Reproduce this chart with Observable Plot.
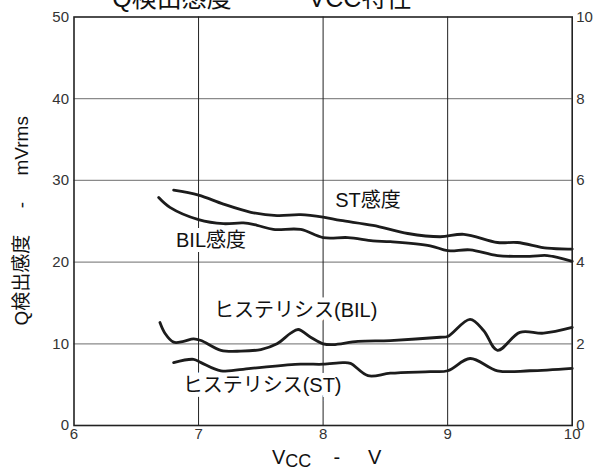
<!DOCTYPE html>
<html>
<head>
<meta charset="utf-8">
<script src="https://cdn.jsdelivr.net/npm/d3@7"></script>
<script src="https://cdn.jsdelivr.net/npm/@observablehq/plot@0.6"></script>
<style>
  html, body { margin: 0; padding: 0; background: white; }
  #chart svg { overflow: visible; }
</style>
</head>
<body>
<div id="chart"></div>
<script>
// ---- data ----
const stV   = [6.80, 7.00, 7.20, 7.42, 7.63, 7.82, 8.00, 8.14, 8.40, 8.68, 8.94, 9.13, 9.40, 9.56, 9.80, 10.0];
const stVal = [28.8, 28.2, 27.1, 26.1, 25.7, 25.8, 25.5, 25.1, 24.5, 23.5, 23.1, 23.4, 22.4, 22.4, 21.7, 21.6];

const bilV   = [6.68, 6.77, 7.00, 7.20, 7.36, 7.47, 7.60, 7.82, 8.00, 8.20, 8.40, 8.54, 8.86, 9.00, 9.18, 9.40, 9.66, 9.80, 10.0];
const bilVal = [27.9, 26.7, 25.2, 24.7, 24.8, 24.5, 24.0, 24.0, 23.0, 23.0, 22.6, 22.5, 22.0, 21.4, 21.5, 20.8, 20.7, 20.8, 20.1];

const hBilV   = [6.69, 6.73, 6.80, 6.88, 6.96, 7.02, 7.18, 7.34, 7.50, 7.63, 7.74, 7.80, 7.90, 8.00, 8.08, 8.28, 8.54, 8.94, 9.00, 9.18, 9.29, 9.40, 9.58, 9.77, 10.0];
const hBilVal = [12.6, 11.3, 10.2, 10.3, 10.6, 10.4, 9.2, 9.1, 9.3, 10.0, 11.3, 11.75, 10.8, 10.0, 9.9, 10.3, 10.4, 10.8, 10.9, 13.0, 11.6, 9.2, 11.4, 11.3, 12.0];

const hStV   = [6.80, 6.96, 7.02, 7.18, 7.42, 7.82, 8.00, 8.16, 8.22, 8.36, 8.54, 8.86, 9.00, 9.18, 9.40, 9.66, 10.0];
const hStVal = [7.7, 8.1, 7.7, 6.7, 7.0, 7.5, 7.5, 7.7, 7.6, 6.1, 6.4, 6.6, 6.7, 8.2, 6.7, 6.7, 7.0];

const xTicks = [6, 7, 8, 9, 10];
const xTickLabels = ["6", "7", "8", "9", "10"];
const yTicks = [0, 10, 20, 30, 40, 50];
const yTickLabels = ["0", "10", "20", "30", "40", "50"];
const rightTickLabels = ["0", "2", "4", "6", "8", "10"];

const labelText = ["ST感度", "BIL感度", "ヒステリシス(BIL)", "ヒステリシス(ST)"];
const labelV    = [8.36, 7.10, 7.78, 7.51];
const labelVal  = [27.5, 22.6, 14.1, 4.9];

// ---- build tables ----
const toRows = (xs, ys) => xs.map((x, i) => ({x, y: ys[i]}));
const series = [toRows(stV, stVal), toRows(bilV, bilVal), toRows(hBilV, hBilVal), toRows(hStV, hStVal)];
const labels = labelText.map((t, i) => ({t, x: labelV[i], y: labelVal[i]}));

const FONT = "'Liberation Sans', Arial, 'Noto Sans CJK JP', sans-serif";
const W = 597, H = 473;
const mL = 73.5, mR = 25.3, mT = 16.5, mB = 48;

const lineMarks = series.map(d => Plot.line(d, {
  x: "x", y: "y", curve: "catmull-rom", stroke: "#1c1c1c", strokeWidth: 2.8
}));

const chart = Plot.plot({
  width: W, height: H,
  marginLeft: mL, marginRight: mR, marginTop: mT, marginBottom: mB,
  style: {fontFamily: FONT, background: "white", overflow: "visible"},
  x: {domain: [6, 10]},
  y: {domain: [0, 50]},
  marks: [
    Plot.ruleY(yTicks.slice(1, -1), {stroke: "#8a8a8a", strokeWidth: 1.2}),
    Plot.ruleX(xTicks.slice(1, -1), {stroke: "#222", strokeWidth: 1}),
    Plot.text(labels, {x: "x", y: "y", text: "t", fontSize: 20, fill: "white", stroke: "white", strokeWidth: 10, strokeLinejoin: "miter"}),
    Plot.text(labels, {x: "x", y: "y", text: "t", fontSize: 20, fill: "#111"}),
    ...lineMarks,
    Plot.frame({stroke: "#222", strokeWidth: 1.6}),
    Plot.axisX({ticks: xTicks, tickSize: 0, tickPadding: 3, fontSize: 15, label: null, color: "#333",
      tickFormat: d => xTickLabels[xTicks.indexOf(d)]}),
    Plot.axisY({ticks: yTicks, tickSize: 0, tickPadding: 5, fontSize: 15, label: null, color: "#333",
      tickFormat: d => yTickLabels[yTicks.indexOf(d)]}),
    Plot.axisY({anchor: "right", ticks: yTicks, tickSize: 0, tickPadding: 4, fontSize: 15, label: null, color: "#333",
      tickFormat: d => rightTickLabels[yTicks.indexOf(d)]})
  ]
});

document.getElementById("chart").append(chart);

// ---- titles / axis labels as real text ----
const svg = d3.select(chart);
const cx = mL + (W - mL - mR) / 2;
const cy = mT + (H - mT - mB) / 2;

// title (partly cut off at the top, as in the reference)
svg.append("text")
  .attr("x", 172).attr("y", 7)
  .attr("font-family", FONT).attr("font-size", 25).attr("fill", "#111")
  .text("Q検出感度");
svg.append("text")
  .attr("x", 360).attr("y", 7)
  .attr("font-family", FONT).attr("font-size", 25).attr("fill", "#111")
  .text("VCC特性");

// x label
const xl = svg.append("text")
  .attr("x", cx + 4).attr("y", 464)
  .attr("text-anchor", "middle")
  .attr("font-family", FONT).attr("font-size", 20).attr("fill", "#111");
xl.append("tspan").text("V");
xl.append("tspan").attr("font-size", 18).attr("dy", 3).text("CC");
xl.append("tspan").attr("dy", -3).text("\u00a0\u00a0\u00a0\u00a0-\u00a0\u00a0\u00a0\u00a0\u00a0V");

// y label
svg.append("text")
  .attr("transform", `translate(28,${cy}) rotate(-90)`)
  .attr("text-anchor", "middle")
  .attr("font-family", FONT).attr("font-size", 19).attr("fill", "#111")
  .text("Q検出感度\u00a0\u00a0\u00a0\u00a0\u00a0-\u00a0\u00a0\u00a0\u00a0\u00a0mVrms");
</script>
</body>
</html>
